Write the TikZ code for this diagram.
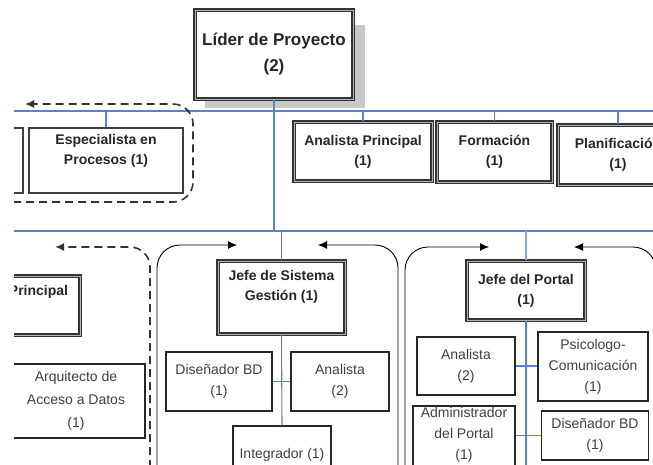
\documentclass[tikz,border=0pt]{standalone}
\usepackage{fontspec}
\setmainfont{Liberation Sans}
\usetikzlibrary{arrows.meta}
\definecolor{orgblue}{RGB}{84,132,208}
\definecolor{orglight}{RGB}{135,168,224}
\definecolor{shadowgray}{RGB}{200,200,200}

\begin{document}
\begin{tikzpicture}[x=1pt,y=-1pt,
  heavy/.style={draw=black!80, line width=1.2pt, double=black!30, double distance=0.8pt, fill=white, inner sep=0pt, align=center},
  medium/.style={draw=black!75, line width=1.7pt, fill=white, inner sep=0pt, align=center},
  thin/.style={draw=black!85, line width=1.1pt, fill=white, inner sep=0pt, align=center},
  bold/.style={font=\fontsize{14}{20}\selectfont\bfseries, text=black!85, align=center},
  plain/.style={font=\fontsize{14}{21}\selectfont, text=black!75, align=center},
  bus/.style={draw=orgblue, line width=1.6pt},
  drop/.style={draw=orgblue, line width=1.1pt},
  lightdrop/.style={draw=orglight, line width=1.2pt},
  group/.style={draw=black, line width=0.9pt, rounded corners=23pt, -{Latex[length=9pt,width=8pt]}},
  dgroup/.style={draw=black!80, line width=1.6pt, dash pattern=on 8pt off 5pt, rounded corners=20pt, -{Latex[length=9pt,width=8pt]}},
]
\useasboundingbox (0,0) rectangle (653,464);
\clip (14,0) rectangle (653,464);

% bus lines
\coordinate (b1w) at (0,111);
\coordinate (b1e) at (660,111);
\coordinate (b2w) at (0,231);
\coordinate (b2e) at (660,231);
\draw[bus] (b1w) -- (b1e);
\draw[bus] (b2w) -- (b2e);

% project leader with its shadow
\fill[shadowgray] (205,25) rectangle (365,108);
\node[heavy, bold, font=\fontsize{17}{26}\selectfont\bfseries, minimum width=158pt, minimum height=89pt] (lider) at (274,54.5) {Líder de Proyecto\\(2)};
\draw[bus, line width=2pt] (lider.south) -- (lider.south |- b2w);

% dashed group, upper row
\coordinate (dgA1) at (0,202);
\coordinate (dgA2) at (193,104);
\coordinate (dgA3) at (25,104);
\draw[dgroup] (dgA1) -| (dgA2) -- (dgA3);

% upper row
\node[medium, minimum width=83pt, minimum height=65pt] (cutA) at (-18.5,160.5) {};
\node[medium, minimum width=154pt, minimum height=65pt] (espec) at (106,160.5) {};
\node[bold] (espec-t) at (106,151) {Especialista en\\Procesos (1)};
\node[heavy, bold, minimum width=138pt, minimum height=59pt] (anap) at (363,151.5) {Analista Principal\\(1)};
\node[heavy, bold, minimum width=115pt, minimum height=60pt] (form) at (494.5,152) {Formación\\(1)};
\node[heavy, bold, minimum width=120pt, minimum height=60pt] (plan) at (618,155) {Planificación\\(1)};
\draw[drop] (espec.north) -- (espec.north |- b1w);
\draw[drop] (anap.north) -- (anap.north |- b1w);
\draw[drop] (form.north) -- (form.north |- b1w);
\draw[drop] (plan.north) -- (plan.north |- b1w);

% left dashed group, lower row
\coordinate (dgB1) at (150,520);
\coordinate (dgB2) at (55,247);
\draw[dgroup] (dgB1) |- (dgB2);
\node[heavy, minimum width=120pt, minimum height=59pt] (princ) at (20,305.5) {};
\node[bold] (princ-t) at (38.5,292) {Principal};
\node[thin, plain, font=\fontsize{14}{23}\selectfont, minimum width=138pt, minimum height=74pt] (arq) at (76,401) {Arquitecto de\\Acceso a Datos\\(1)};

% management system group
\coordinate (gS1) at (157,520);
\coordinate (gS2) at (237,245);
\coordinate (gS3) at (398,520);
\coordinate (gS4) at (318,245);
\draw[group] (gS1) |- (gS2);
\draw[group] (gS3) |- (gS4);
\node[heavy, minimum width=127pt, minimum height=73pt] (jsg) at (281.5,297.5) {};
\node[bold] (jsg-t) at (281.5,287) {Jefe de Sistema\\Gestión (1)};
\draw[drop] (jsg.north) -- (jsg.north |- b2w);
\node[thin, plain, minimum width=106pt, minimum height=59pt] (disA) at (219,381.5) {Diseñador BD\\(1)};
\node[thin, plain, minimum width=98pt, minimum height=59pt] (anaA) at (340,381.5) {Analista\\(2)};
\node[thin, plain, minimum width=98pt, minimum height=58pt] (integ) at (282,455) {Integrador (1)};
\draw[drop] (jsg.south) -- (integ.north);
\draw[drop] (disA.east) -- (anaA.west);

% portal group
\coordinate (gP1) at (405,520);
\coordinate (gP2) at (489,247);
\coordinate (gP3) at (656,520);
\coordinate (gP4) at (574,247);
\draw[group] (gP1) |- (gP2);
\draw[group] (gP3) |- (gP4);
\node[heavy, bold, minimum width=118pt, minimum height=59pt] (jdp) at (526,290.5) {Jefe del Portal\\(1)};
\coordinate (pbot) at (526,470);
\draw[lightdrop] (jdp.north) -- (jdp.north |- b2w);
\draw[bus, line width=2.2pt] (jdp.south) -- (jdp.south |- pbot);
\node[thin, plain, minimum width=98pt, minimum height=58pt] (anaB) at (466,366) {Analista\\(2)};
\node[thin, plain, minimum width=110pt, minimum height=69pt] (psico) at (593,366.5) {Psicologo-\\Comunicación\\(1)};
\draw[drop] (anaB.east) -- (anaB.east -| psico.west);
\node[thin, minimum width=102pt, minimum height=70pt] (admin) at (464,441) {};
\node[plain] (admin-t) at (464,434.5) {Administrador\\del Portal\\(1)};
\node[thin, plain, minimum width=107pt, minimum height=49pt] (disB) at (595,435.5) {Diseñador BD\\(1)};
\draw[drop] (admin.east |- disB.west) -- (disB.west);
\end{tikzpicture}
\end{document}
